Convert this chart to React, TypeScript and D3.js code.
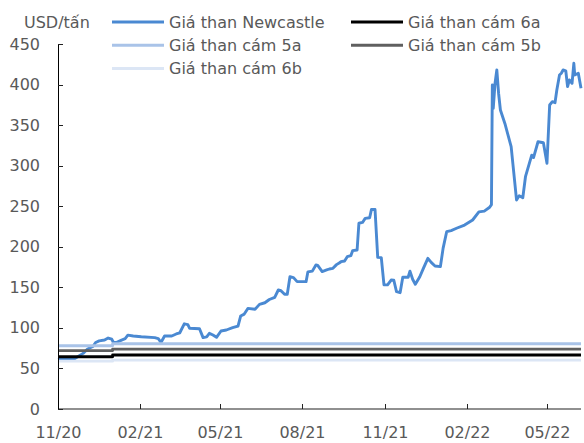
import React from "react";
import * as d3 from "d3";

const width = 584;
const height = 443;
const margin = { top: 44, right: 3, bottom: 34, left: 58 };

// Newcastle price, USD/t
const ncDates = [
  "2020-11-01", "2020-11-08", "2020-11-18", "2020-11-23", "2020-11-29", "2020-12-04",
  "2020-12-10", "2020-12-13", "2020-12-17", "2020-12-23", "2020-12-27", "2020-12-31",
  "2021-01-02", "2021-01-05", "2021-01-11", "2021-01-15", "2021-01-18", "2021-01-24",
  "2021-02-02", "2021-02-17", "2021-02-21", "2021-02-24", "2021-02-28", "2021-03-08",
  "2021-03-13", "2021-03-17", "2021-03-22", "2021-03-26", "2021-03-28", "2021-04-08",
  "2021-04-12", "2021-04-16", "2021-04-19", "2021-04-23", "2021-04-27", "2021-05-02",
  "2021-05-08", "2021-05-15", "2021-05-21", "2021-05-24", "2021-05-28", "2021-06-01",
  "2021-06-09", "2021-06-14", "2021-06-20", "2021-06-25", "2021-07-01", "2021-07-05",
  "2021-07-08", "2021-07-12", "2021-07-15", "2021-07-18", "2021-07-22", "2021-07-26",
  "2021-08-05", "2021-08-07", "2021-08-12", "2021-08-16", "2021-08-18", "2021-08-23",
  "2021-08-28", "2021-08-31", "2021-09-04", "2021-09-08", "2021-09-11", "2021-09-13",
  "2021-09-17", "2021-09-20", "2021-09-24", "2021-09-26", "2021-10-01", "2021-10-03",
  "2021-10-07", "2021-10-10", "2021-10-15", "2021-10-17", "2021-10-21", "2021-10-24",
  "2021-10-28", "2021-10-31", "2021-11-04", "2021-11-08", "2021-11-11", "2021-11-14",
  "2021-11-18", "2021-11-21", "2021-11-27", "2021-11-29", "2021-12-02", "2021-12-05",
  "2021-12-10", "2021-12-14", "2021-12-19", "2021-12-23", "2021-12-27", "2022-01-02",
  "2022-01-05", "2022-01-09", "2022-01-14", "2022-01-20", "2022-01-29", "2022-02-07",
  "2022-02-14", "2022-02-20", "2022-02-26", "2022-02-28", "2022-03-01", "2022-03-02",
  "2022-03-04", "2022-03-06", "2022-03-08", "2022-03-10", "2022-03-15", "2022-03-22",
  "2022-03-28", "2022-03-31", "2022-04-04", "2022-04-07", "2022-04-14", "2022-04-16",
  "2022-04-21", "2022-04-27", "2022-05-01", "2022-05-04", "2022-05-07", "2022-05-10",
  "2022-05-12", "2022-05-15", "2022-05-17", "2022-05-19", "2022-05-22", "2022-05-24",
  "2022-05-26", "2022-05-29", "2022-05-31", "2022-06-01", "2022-06-05", "2022-06-08",
];
const ncValues = [
  61, 62, 61, 64.5, 68.6, 74,
  77, 82, 84, 85, 87.5, 86,
  82, 82, 85, 86.7, 91, 90,
  89, 88, 86.7, 82, 90, 90,
  92.5, 94, 105, 104, 99.5, 99,
  88, 89, 93.3, 91.2, 88.4, 96.2,
  97.4, 100.2, 102.3, 114.7, 117, 124,
  123, 129, 131, 135, 137.7, 146.7,
  145.8, 141.4, 141.4, 163, 162, 157,
  157, 169, 170, 177.5, 177, 169.5,
  171.4, 172.6, 173.4, 178, 180, 181.6,
  182.5, 187.8, 189, 195.2, 196, 229,
  230, 235, 235.8, 246, 246, 187,
  186.6, 153, 153, 159, 158.7, 144.6,
  143.4, 162.4, 162.4, 170, 160, 153.7,
  163, 173.4, 185.8, 180.4, 176.3, 175.5,
  198, 218.6, 220, 222.8, 226.8, 233,
  243, 244, 248.7, 252, 399.5, 370.7,
  401.5, 418, 389, 368.6, 352, 323.4,
  257.7, 263, 260.5, 286.4, 313, 310,
  329.5, 328.3, 303, 374.8, 378.9, 377.7,
  393.3, 411.8, 413.9, 418, 417, 397.4,
  405.6, 401.5, 426.2, 411.8, 413.9, 395.4,
];

// domestic prices, flat with one step at the turn of the year
const stepDates = ["2020-11-01", "2021-01-01", "2022-06-08"];
const cam6a = [64.5, 66.5, 66.5];
const cam5a = [78, 80.5, 80.5];
const cam5b = [72, 73.8, 73.8];
const cam6b = [59, 60.3, 60.3];

const xTickDates = ["2020-11-01", "2021-02-01", "2021-05-01", "2021-08-01", "2021-11-01", "2022-02-01", "2022-05-01"];
const yTicks = [0, 50, 100, 150, 200, 250, 300, 350, 400, 450];

const parse = d3.timeParse("%Y-%m-%d");
const fmt = d3.timeFormat("%m/%y");
const font = "DejaVu Sans";
const textColor = "#595959";

const series = [
  { name: "Giá than Newcastle", color: "#4A89D2", dates: ncDates, values: ncValues, step: false },
  { name: "Giá than cám 6a", color: "#000000", dates: stepDates, values: cam6a, step: true },
  { name: "Giá than cám 5a", color: "#A9C3E8", dates: stepDates, values: cam5a, step: true },
  { name: "Giá than cám 5b", color: "#5F5F5F", dates: stepDates, values: cam5b, step: true },
  { name: "Giá than cám 6b", color: "#DCE6F5", dates: stepDates, values: cam6b, step: true },
];

// legend order as in the original (two columns)
const legendOrder = [
  { name: "Giá than Newcastle", col: 0, row: 0 },
  { name: "Giá than cám 6a", col: 1, row: 0 },
  { name: "Giá than cám 5a", col: 0, row: 1 },
  { name: "Giá than cám 5b", col: 1, row: 1 },
  { name: "Giá than cám 6b", col: 0, row: 2 },
];

export default function App() {
  const x = d3
    .scaleTime()
    .domain([parse("2020-11-01")!, parse("2022-06-08")!])
    .range([margin.left, width - margin.right]);
  const y = d3
    .scaleLinear()
    .domain([0, 450])
    .range([height - margin.bottom, margin.top]);

  const y0 = y(0);

  return (
    <svg
      width={width}
      height={height}
      style={{ position: "absolute", left: 0, top: 0, background: "#fff" }}
      fontFamily={font}
    >
      {/* series */}
      {series.map((s) => {
        const pts: [Date, number][] = s.dates.map((d, i) => [parse(d)!, s.values[i]]);
        const line = d3
          .line<[Date, number]>()
          .x((d) => x(d[0]))
          .y((d) => y(d[1]))
          .curve(s.step ? d3.curveStepAfter : d3.curveLinear);
        return (
          <path
            key={s.name}
            d={line(pts) || ""}
            fill="none"
            stroke={s.color}
            strokeWidth={2.9}
            strokeLinejoin="round"
          />
        );
      })}

      {/* x axis */}
      <line x1={margin.left} x2={width - margin.right} y1={y0} y2={y0} stroke="#6b6b6b" strokeWidth={1.5} />
      {xTickDates.map((d) => {
        const xx = Math.round(x(parse(d)!)) + 0.5;
        return (
          <g key={d}>
            <line x1={xx} x2={xx} y1={y0} y2={y0 - 5} stroke="#222" />
            <text x={xx} y={438} textAnchor="middle" fontSize={16} fill={textColor}>
              {fmt(parse(d)!)}
            </text>
          </g>
        );
      })}

      {/* y axis */}
      <line x1={margin.left + 0.5} x2={margin.left + 0.5} y1={y(450)} y2={y0} stroke="#000" />
      {yTicks.map((t) => (
        <g key={t}>
          <line x1={margin.left} x2={margin.left + 5} y1={Math.round(y(t)) + 0.5} y2={Math.round(y(t)) + 0.5} stroke="#222" />
          <text x={40} y={y(t)} dy="0.35em" textAnchor="end" fontSize={16} fill={textColor}>
            {t}
          </text>
        </g>
      ))}

      {/* unit */}
      <text x={24} y={22} dy="0.35em" fontSize={16} fill={textColor}>
        USD/tấn
      </text>

      {/* legend */}
      {legendOrder.map((l) => {
        const s = series.find((q) => q.name === l.name)!;
        const lx = l.col === 0 ? 112 : 351;
        const ly = 22 + l.row * 23.3;
        return (
          <g key={l.name}>
            <line x1={lx} x2={lx + 52} y1={ly} y2={ly} stroke={s.color} strokeWidth={3} />
            <text x={lx + 57} y={ly} dy="0.35em" fontSize={16} fill={textColor}>
              {l.name}
            </text>
          </g>
        );
      })}
    </svg>
  );
}
